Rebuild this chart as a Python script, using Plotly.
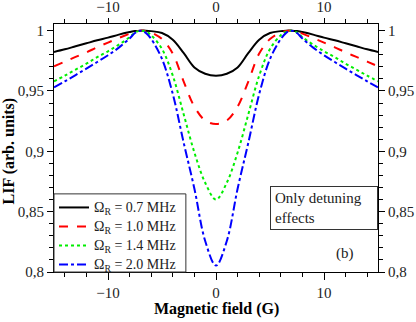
import plotly.graph_objects as go

# magnetic field (G)
field = [-15, -14, -13, -12, -11, -10, -9, -8, -7.5, -7, -6.5, -6, -5, -4, -3, -2, -1, 0,
         1, 2, 3, 4, 5, 6, 6.5, 7, 7.5, 8, 9, 10, 11, 12, 13, 14, 15]

# normalised LIF
lif_07 = [0.9823, 0.9845, 0.9870, 0.9895, 0.9920, 0.9942, 0.9967, 0.9988, 0.9997, 1.0000, 1.0000,
          0.9996, 0.9980, 0.9925, 0.9815, 0.9695, 0.9643, 0.9627,
          0.9643, 0.9695, 0.9815, 0.9925, 0.9980, 0.9996, 1.0000, 1.0000, 0.9997, 0.9988,
          0.9967, 0.9942, 0.9920, 0.9895, 0.9870, 0.9845, 0.9823]
lif_10 = [0.9705, 0.9743, 0.9782, 0.9820, 0.9862, 0.9901, 0.9939, 0.9975, 0.9993, 1.0000, 0.9997,
          0.9985, 0.9930, 0.9810, 0.9580, 0.9370, 0.9255, 0.9226,
          0.9255, 0.9370, 0.9580, 0.9810, 0.9930, 0.9985, 0.9997, 1.0000, 0.9993, 0.9975,
          0.9939, 0.9901, 0.9862, 0.9820, 0.9782, 0.9743, 0.9705]
lif_14 = [0.9580, 0.9627, 0.9677, 0.9726, 0.9780, 0.9829, 0.9884, 0.9945, 0.9985, 1.0000, 0.9992,
          0.9962, 0.9848, 0.9627, 0.9309, 0.8990, 0.8740, 0.8600,
          0.8740, 0.8990, 0.9309, 0.9627, 0.9848, 0.9962, 0.9992, 1.0000, 0.9985, 0.9945,
          0.9884, 0.9829, 0.9780, 0.9726, 0.9677, 0.9627, 0.9580]
lif_20 = [0.9530, 0.9580, 0.9632, 0.9685, 0.9740, 0.9796, 0.9859, 0.9935, 0.9980, 1.0000, 0.9982,
          0.9931, 0.9765, 0.9475, 0.9074, 0.8690, 0.8257, 0.8053,
          0.8257, 0.8690, 0.9074, 0.9475, 0.9765, 0.9931, 0.9982, 1.0000, 0.9980, 0.9935,
          0.9859, 0.9796, 0.9740, 0.9685, 0.9632, 0.9580, 0.9530]

labels = ["Ω<sub>R</sub> = 0.7 MHz", "Ω<sub>R</sub> = 1.0 MHz",
          "Ω<sub>R</sub> = 1.4 MHz", "Ω<sub>R</sub> = 2.0 MHz"]

x_tickvals = [-10, 0, 10]
x_ticktext = ["\u221210", "0", "10"]
y_tickvals = [0.8, 0.85, 0.9, 0.95, 1.0]
y_ticktext = ["0,8", "0,85", "0,9", "0,95", "1"]

FONT = "Liberation Serif, Times New Roman, serif"

styles = [
    dict(color="black", dash="solid"),
    dict(color="#ff0000", dash="dash"),
    dict(color="#00ee00", dash="dot"),
    dict(color="#0000ff", dash="dashdot"),
]

fig = go.Figure()
for ys, name, st in zip([lif_07, lif_10, lif_14, lif_20], labels, styles):
    fig.add_trace(go.Scatter(
        x=field, y=ys, mode="lines",
        name='<span style="font-size:14px">' + name + "</span>",
        line=dict(color=st["color"], dash=st["dash"], width=2, shape="spline", smoothing=1.0),
    ))

# invisible trace so the mirrored top/right axes get drawn
fig.add_trace(go.Scatter(x=field, y=lif_07, mode="lines", opacity=0, showlegend=False,
                         hoverinfo="skip", xaxis="x2", yaxis="y2"))

xrange = [-15, 15]
yrange = [0.8, 1.0055]

xcommon = dict(range=xrange, tickmode="array", tickvals=x_tickvals, ticktext=x_ticktext,
               showline=True, linecolor="black", linewidth=1, ticks="outside",
               ticklen=7, tickcolor="black", showgrid=False, zeroline=False,
               automargin=False,
               tickfont=dict(family=FONT, size=15, color="#222"),
               minor=dict(tickmode="linear", tick0=0, dtick=2, ticks="outside",
                          ticklen=4, tickcolor="black"))
ycommon = dict(range=yrange, tickmode="array", tickvals=y_tickvals, ticktext=y_ticktext,
               showline=True, linecolor="black", linewidth=1, ticks="outside",
               ticklen=6, tickcolor="black", showgrid=False, zeroline=False,
               automargin=False,
               tickfont=dict(family=FONT, size=15, color="#222"),
               minor=dict(tickmode="linear", tick0=0.8, dtick=0.01, ticks="outside",
                          ticklen=4, tickcolor="black"))

top_axis = dict(xcommon, ticklen=5)

fig.update_layout(
    width=416, height=322,
    margin=dict(l=54, r=38, t=24, b=50),
    paper_bgcolor="white", plot_bgcolor="white",
    font=dict(family=FONT, color="black"),
    xaxis=dict(**xcommon, side="bottom"),
    yaxis=dict(**ycommon, side="left"),
    xaxis2=dict(**top_axis, side="top", overlaying="x", anchor="y"),
    yaxis2=dict(**ycommon, side="right", overlaying="y", anchor="x"),
    showlegend=True,
    # legend itself is borderless/transparent; its frame is the rectangle below
    legend=dict(x=0, y=-0.028, xanchor="left", yanchor="bottom",
                bgcolor="rgba(0,0,0,0)", borderwidth=0,
                font=dict(family=FONT, size=11.3, color="#222"),
                tracegroupgap=0),
    shapes=[
        dict(type="rect", xref="paper", yref="paper", x0=0, x1=0.407, y0=0, y1=0.315,
             line=dict(color="#333", width=1), fillcolor="white", layer="above"),
    ],
    annotations=[
        dict(text="<b>Magnetic field (G)</b>", xref="paper", yref="paper",
             x=0.5, y=-0.15, xanchor="center", yanchor="middle", showarrow=False,
             font=dict(family=FONT, size=16, color="black")),
        dict(text="<b>LIF (arb. units)</b>", xref="paper", yref="paper",
             x=-0.136, y=0.49, xanchor="center", yanchor="middle", textangle=-90,
             showarrow=False, font=dict(family=FONT, size=16, color="black")),
        dict(text="Only detuning<br>effects", xref="paper", yref="paper",
             x=1, y=0.347, xanchor="right", yanchor="top", align="left",
             width=98, height=34, borderpad=4, bordercolor="#333", borderwidth=1,
             bgcolor="white", showarrow=False,
             font=dict(family=FONT, size=15, color="#222")),
        dict(text="(b)", xref="paper", yref="paper", x=0.898, y=0.073,
             xanchor="center", yanchor="middle", showarrow=False,
             font=dict(family=FONT, size=15, color="#222")),
    ],
)

# drop the browser's default 8px body margin so the figure sits at the page corner
fig.write_html("out.html", config={"displayModeBar": False},
               post_script="document.body.style.margin='0px';")
